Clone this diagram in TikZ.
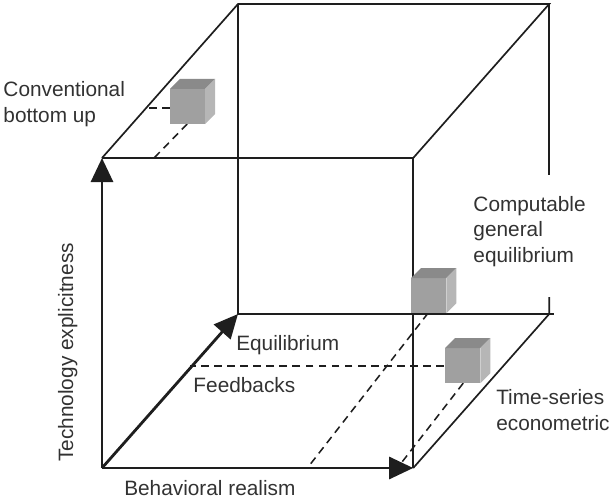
\documentclass[tikz,border=0pt]{standalone}
\usepackage{fontspec}
\setmainfont{Liberation Sans}
\usepackage{tikz}
\usetikzlibrary{arrows.meta,calc}
\definecolor{linegray}{RGB}{30,30,30}
\definecolor{textgray}{RGB}{50,50,50}
\definecolor{cubefront}{RGB}{160,160,160}
\definecolor{cubetop}{RGB}{138,138,138}
\definecolor{cubeside}{RGB}{182,182,182}

\begin{document}
\begin{tikzpicture}[
  edge/.style={draw=linegray, line width=1.2pt},
  axis/.style={draw=linegray, line width=2pt, -{Triangle[length=0.6cm,width=0.55cm]}},
  guide/.style={draw=linegray, line width=1.1pt, dash pattern=on 5.5pt off 3.8pt},
  lbl/.style={inner sep=0pt, text=textgray, font=\fontsize{14.8pt}{17.8pt}\selectfont, align=left}
]
\useasboundingbox (0cm,0cm) rectangle (15.3cm,-12.5cm);
\coordinate (ftl) at (2.55cm,-3.95cm);
\coordinate (ftr) at (10.33cm,-3.95cm);
\coordinate (fbl) at (2.55cm,-11.7cm);
\coordinate (fbr) at (10.33cm,-11.7cm);
\coordinate (btl) at (5.95cm,-0.1cm);
\coordinate (btr) at (13.73cm,-0.1cm);
\coordinate (bbl) at (5.95cm,-7.85cm);
\coordinate (bbr) at (13.73cm,-7.85cm);
\coordinate (bbx) at (13.85cm,-7.85cm);
\coordinate (rtop) at (13.73cm,-4.38cm);
\coordinate (rlow) at (13.73cm,-7.43cm);

% cube frame
\draw[edge] (ftl) -- (ftr) -- (fbr);
\draw[edge] (ftl) -- (btl) -- (btr) -- (ftr);
\draw[edge] (btl) -- (bbl) -- (bbx);
\draw[edge] (btr) -- (rtop);
\draw[edge] (rlow) -- (bbr) -- (fbr);
\draw[axis] (fbl) -- (ftl);
\draw[axis] (fbl) -- (fbr);
\draw[axis] (fbl) -- (bbl);

% projection lines of the three models
\coordinate (cb1) at (4.25cm,-2.7cm);
\coordinate (cb2) at (3.68cm,-2.7cm);
\coordinate (cb3) at (4.68cm,-3.1cm);
\coordinate (cb4) at (3.85cm,-3.95cm);
\coordinate (ge1) at (10.7cm,-7.83cm);
\coordinate (ge2) at (7.7cm,-11.68cm);
\coordinate (ts1) at (11.1cm,-9.15cm);
\coordinate (ts2) at (4.75cm,-9.15cm);
\coordinate (ts3) at (11.58cm,-9.58cm);
\coordinate (ts4) at (9.95cm,-11.68cm);
\draw[guide] (cb1) -- (cb2);
\draw[guide] (cb3) -- (cb4);
\draw[guide] (ge1) -- (ge2);
\draw[guide] (ts1) -- (ts2);
\draw[guide] (ts3) -- (ts4);

\foreach \x/\y in {4.25/-3.1, 10.28/-7.83, 11.13/-9.58}{
  \fill[cubefront] (\x cm,\y cm) rectangle ++(0.88cm,0.88cm);
  \fill[cubetop] (\x cm,\y cm) ++(0cm,0.88cm) -- ++(0.25cm,0.25cm) -- ++(0.88cm,0cm) -- ++(-0.25cm,-0.25cm) -- cycle;
  \fill[cubeside] (\x cm,\y cm) ++(0.88cm,0cm) -- ++(0.25cm,0.25cm) -- ++(0cm,0.88cm) -- ++(-0.25cm,-0.25cm) -- cycle;
}

\node[lbl, anchor=base west] (cbu) at (0.08cm,-3.05cm) {Conventional\\bottom up};
\node[lbl, anchor=base west] (cge) at (11.83cm,-6.55cm) {Computable\\general\\equilibrium};
\node[lbl, anchor=base west] (tse) at (12.4cm,-10.75cm) {Time-series\\econometric};
\node[lbl, anchor=base west] (equ) at (5.9cm,-8.75cm) {Equilibrium};
\node[lbl, anchor=base west] (fdb) at (4.83cm,-9.8cm) {Feedbacks};
\node[lbl, anchor=base west] (beh) at (3.1cm,-12.38cm) {Behavioral realism};
\node[lbl, anchor=base west, rotate=90] (tec) at (1.83cm,-11.55cm) {Technology explicitness};
\end{tikzpicture}
\end{document}
